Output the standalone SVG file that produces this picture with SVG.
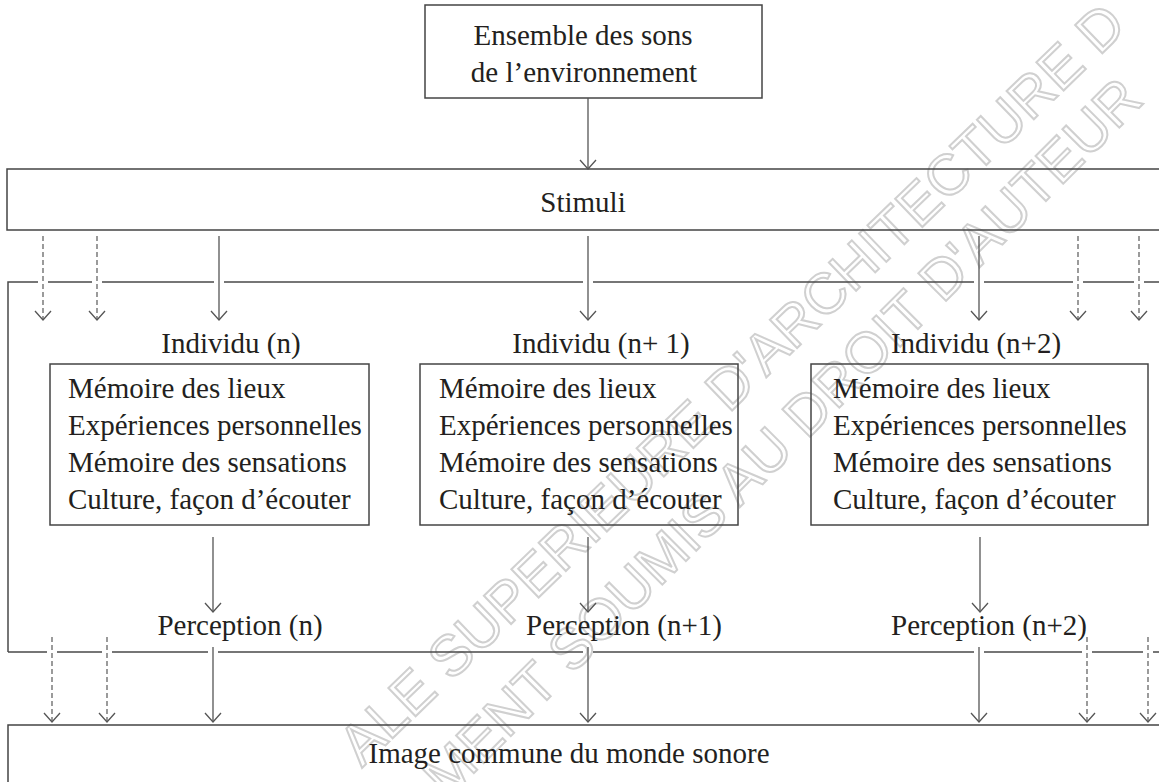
<svg xmlns="http://www.w3.org/2000/svg" width="1159" height="782" viewBox="0 0 1159 782">
<style>
  .bg{fill:#ffffff}
  .box{fill:none;stroke:#444444;stroke-width:1.5}
  .frame{fill:none;stroke:#4a4a4a;stroke-width:1.5}
  .t{font-family:"Liberation Serif","Times New Roman",serif;font-size:29px;fill:#231f20}
  .c{text-anchor:middle}
  .arr{fill:none;stroke:#555555;stroke-width:1.3;marker-end:url(#ah)}
  .dash{fill:none;stroke:#666666;stroke-width:1.3;stroke-dasharray:5 3;marker-end:url(#ah)}
  .wm{font-family:"Liberation Sans",Arial,sans-serif;font-size:57px;fill:none;stroke:#d0d0d0;stroke-width:2}
</style>
<defs>
  <marker id="ah" viewBox="0 0 12 18" refX="10" refY="9" markerWidth="12" markerHeight="18" markerUnits="userSpaceOnUse" orient="auto">
    <path d="M1,1 L10,9 L1,17" fill="none" stroke="#555555" stroke-width="1.3"/>
  </marker>
</defs>
<rect class="bg" x="0" y="0" width="1159" height="782"/>

<g id="watermark">
  <text class="wm" transform="translate(362,768) rotate(-44)">ALE SUPERIEURE D'ARCHITECTURE D</text>
  <text class="wm" transform="translate(447,800) rotate(-45)">MENT SOUMIS AU DROIT D'AUTEUR</text>
</g>

<g id="frame">
  <path class="frame" d="M8,652 V282 H38 M48,282 H92 M102,282 H214 M224,282 H583 M593,282 H974 M984,282 H1073 M1083,282 H1134 M1144,282 H1160"/>
  <path class="frame" d="M8,652 H47 M57,652 H102 M112,652 H208 M218,652 H583 M593,652 H974 M984,652 H1082 M1092,652 H1143 M1153,652 H1160"/>
</g>

<g id="node-sources">
  <rect class="box" x="425" y="5" width="337" height="93"/>
  <text class="t c" x="583" y="45">Ensemble des sons</text>
  <text class="t c" x="584" y="82">de l’environnement</text>
</g>

<g id="node-stimuli">
  <path class="box" d="M1162,169 H7 V230 H1162"/>
  <text class="t c" x="583" y="212">Stimuli</text>
</g>

<g id="node-individu-n">
  <text class="t c" x="231" y="353">Individu (n)</text>
  <rect class="box" x="50" y="364" width="319" height="161"/>
  <text class="t" x="68" y="398">Mémoire des lieux</text>
  <text class="t" x="68" y="435">Expériences personnelles</text>
  <text class="t" x="68" y="472">Mémoire des sensations</text>
  <text class="t" x="68" y="509">Culture, façon d’écouter</text>
</g>

<g id="node-individu-n1">
  <text class="t c" x="601" y="353">Individu (n+ 1)</text>
  <rect class="box" x="420" y="364" width="318" height="161"/>
  <text class="t" x="439" y="398">Mémoire des lieux</text>
  <text class="t" x="439" y="435">Expériences personnelles</text>
  <text class="t" x="439" y="472">Mémoire des sensations</text>
  <text class="t" x="439" y="509">Culture, façon d’écouter</text>
</g>

<g id="node-individu-n2">
  <text class="t c" x="976" y="353">Individu (n+2)</text>
  <rect class="box" x="811" y="364" width="337" height="161"/>
  <text class="t" x="833" y="398">Mémoire des lieux</text>
  <text class="t" x="833" y="435">Expériences personnelles</text>
  <text class="t" x="833" y="472">Mémoire des sensations</text>
  <text class="t" x="833" y="509">Culture, façon d’écouter</text>
</g>

<g id="node-perception-n">
  <text class="t c" x="240" y="635">Perception (n)</text>
</g>
<g id="node-perception-n1">
  <text class="t c" x="624" y="635">Perception (n+1)</text>
</g>
<g id="node-perception-n2">
  <text class="t c" x="989" y="635">Perception (n+2)</text>
</g>

<g id="node-image">
  <path class="box" d="M1162,725 H8 V790"/>
  <text class="t c" x="569" y="763">Image commune du monde sonore</text>
</g>

<g id="connectors">
  <path class="arr" d="M588,98 V169"/>
  <path class="dash" d="M43,236 V320"/>
  <path class="dash" d="M97,236 V320"/>
  <path class="arr" d="M219,236 V320"/>
  <path class="arr" d="M588,236 V320"/>
  <path class="arr" d="M979,236 V320"/>
  <path class="dash" d="M1078,236 V320"/>
  <path class="dash" d="M1139,236 V320"/>
  <path class="arr" d="M213,537 V612"/>
  <path class="arr" d="M588,537 V612"/>
  <path class="arr" d="M980,537 V612"/>
  <path class="dash" d="M52,637 V722"/>
  <path class="dash" d="M107,637 V722"/>
  <path class="arr" d="M213,647 V722"/>
  <path class="arr" d="M588,647 V722"/>
  <path class="arr" d="M979,647 V722"/>
  <path class="dash" d="M1087,637 V722"/>
  <path class="dash" d="M1148,637 V722"/>
</g>
</svg>
